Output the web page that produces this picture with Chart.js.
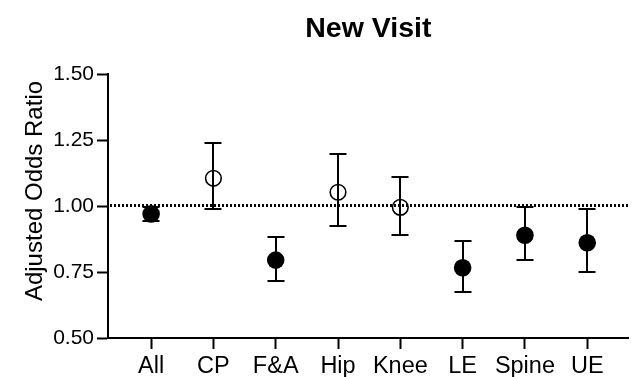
<!DOCTYPE html>
<html>
<head>
<meta charset="utf-8">
<script src="https://cdn.jsdelivr.net/npm/chart.js@4.4.1/dist/chart.umd.min.js"></script>
<style>
  html, body { margin: 0; padding: 0; background: #fff; }
  #wrap { width: 638px; height: 377px; position: relative; }
</style>
</head>
<body>
<div id="wrap"><canvas id="c"></canvas></div>
<script>
// ---- data ----
const categories = ['All', 'CP', 'F&A', 'Hip', 'Knee', 'LE', 'Spine', 'UE'];
const oddsRatio  = [0.970, 1.105, 0.795, 1.052, 0.995, 0.766, 0.889, 0.861];
const ciLower    = [0.945, 0.988, 0.717, 0.924, 0.891, 0.674, 0.795, 0.749];
const ciUpper    = [0.998, 1.240, 0.881, 1.196, 1.109, 0.869, 0.995, 0.989];
const significant = [true, false, true, false, false, true, true, true];
const yTicks = [0.50, 0.75, 1.00, 1.25, 1.50];
const referenceValue = 1.0;
const chartTitle = 'New Visit';
const yAxisTitle = 'Adjusted Odds Ratio';

const FONT = "'Liberation Sans', Arial, Helvetica, sans-serif";

const errorBarPlugin = {
  id: 'errorBars',
  beforeDatasetsDraw(chart) {
    const ctx = chart.ctx;
    const xs = chart.scales.x, ys = chart.scales.y;
    ctx.save();
    ctx.strokeStyle = '#000';
    ctx.lineWidth = 2;
    const capHalf = 8.5;
    categories.forEach((c, i) => {
      const px = Math.round(xs.getPixelForValue(i + 1));
      const pLo = Math.round(ys.getPixelForValue(ciLower[i]));
      const pHi = Math.round(ys.getPixelForValue(ciUpper[i]));
      ctx.beginPath();
      ctx.moveTo(px, pLo); ctx.lineTo(px, pHi);
      ctx.moveTo(px - capHalf, pLo); ctx.lineTo(px + capHalf, pLo);
      ctx.moveTo(px - capHalf, pHi); ctx.lineTo(px + capHalf, pHi);
      ctx.stroke();
    });
    ctx.restore();
  },
  afterDatasetsDraw(chart) {
    const ctx = chart.ctx;
    const ys = chart.scales.y;
    const area = chart.chartArea;
    const py = Math.round(ys.getPixelForValue(referenceValue)) - 0.5;
    ctx.save();
    ctx.strokeStyle = '#000';
    ctx.lineWidth = 3;
    ctx.setLineDash([2, 2]);
    ctx.beginPath();
    ctx.moveTo(area.left + 2, py);
    ctx.lineTo(area.right, py);
    ctx.stroke();
    ctx.restore();
  },
  afterDraw(chart) {
    const ctx = chart.ctx;
    const area = chart.chartArea;
    ctx.save();
    ctx.fillStyle = '#000';
    ctx.font = "bold 28.5px " + FONT;
    ctx.textAlign = 'center';
    ctx.textBaseline = 'alphabetic';
    ctx.fillText(chartTitle, (area.left + area.right) / 2, 37);
    ctx.translate(41.7, 191);
    ctx.rotate(-Math.PI / 2);
    ctx.font = "24px " + FONT;
    ctx.fillText(yAxisTitle, 0, 0);
    ctx.restore();
  }
};

const points = categories.map((c, i) => ({ x: i + 1, y: oddsRatio[i] }));

new Chart(document.getElementById('c'), {
  type: 'scatter',
  data: {
    datasets: [{
      data: points,
      showLine: false,
      pointRadius: significant.map(s => s ? 8.8 : 7.8),
      pointHoverRadius: significant.map(s => s ? 8.8 : 7.8),
      pointBackgroundColor: significant.map(s => s ? '#000' : 'rgba(255,255,255,0)'),
      pointBorderColor: '#000',
      pointBorderWidth: significant.map(s => s ? 0 : 1.6)
    }]
  },
  options: {
    responsive: true,
    maintainAspectRatio: false,
    animation: false,
    events: [],
    layout: { padding: { top: 74, right: 2, left: 0, bottom: 0 } },
    plugins: {
      legend: { display: false },
      title: { display: false },
      tooltip: { enabled: false }
    },
    scales: {
      x: {
        type: 'linear',
        min: 0.308,
        max: 8.664,
        afterBuildTicks: (scale) => { scale.ticks = categories.map((c, i) => ({ value: i + 1 })); },
        afterFit: (scale) => { scale.height = 39; },
        ticks: {
          autoSkip: false,
          maxRotation: 0,
          padding: 3,
          color: '#000',
          font: { family: FONT, size: 23.5 },
          callback: (v) => categories[v - 1]
        },
        grid: { drawOnChartArea: false, tickLength: 11, tickWidth: 2, tickColor: '#000' },
        border: { color: '#000', width: 2 }
      },
      y: {
        min: 0.5,
        max: 1.5,
        afterBuildTicks: (scale) => { scale.ticks = yTicks.map(v => ({ value: v })); },
        afterFit: (scale) => { scale.width = 108; },
        ticks: {
          padding: 3,
          color: '#000',
          font: { family: FONT, size: 21 },
          callback: (v) => Number(v).toFixed(2)
        },
        grid: { drawOnChartArea: false, tickLength: 11, tickWidth: 2, tickColor: '#000' },
        border: { color: '#000', width: 2 }
      }
    }
  },
  plugins: [errorBarPlugin]
});
</script>
</body>
</html>
